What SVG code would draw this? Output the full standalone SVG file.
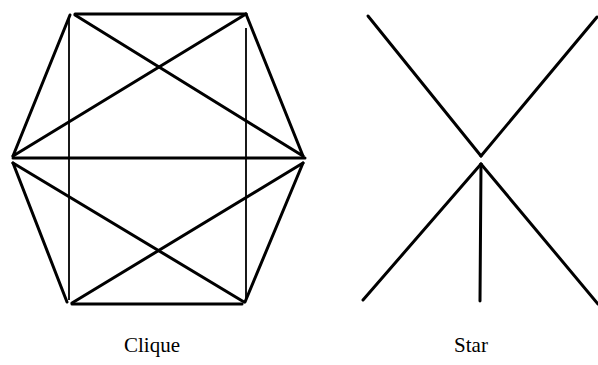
<svg xmlns="http://www.w3.org/2000/svg" width="598" height="365" viewBox="0 0 598 365">
<style>
.e{stroke:#000;stroke-width:3;stroke-linecap:round;fill:none}
.t{stroke:#000;stroke-width:1.8;fill:none}
.lbl{font-family:"Liberation Serif",serif;font-size:21px;fill:#000;text-anchor:middle}
</style>
<rect width="598" height="365" fill="#fff"/>
<g id="connectors">
<line class="e" x1="75" y1="14" x2="246" y2="14"/>
<line class="e" x1="70" y1="15" x2="13" y2="156"/>
<line class="e" x1="75" y1="15" x2="303" y2="156"/>
<line class="e" x1="246" y1="14" x2="13" y2="156"/>
<line class="e" x1="246" y1="14" x2="303" y2="156"/>
<line class="t" x1="69" y1="16" x2="69" y2="300"/>
<line class="t" x1="246" y1="28" x2="246" y2="300"/>
<line class="e" x1="13" y1="158" x2="305" y2="158"/>
<line class="e" x1="13" y1="163" x2="67" y2="302"/>
<line class="e" x1="13" y1="163" x2="244" y2="302"/>
<line class="e" x1="303" y1="163" x2="72" y2="303"/>
<line class="e" x1="303" y1="163" x2="245" y2="302"/>
<line class="e" x1="72" y1="304" x2="242" y2="304"/>
<line class="e" x1="368" y1="16" x2="481" y2="156"/>
<line class="e" x1="597" y1="17" x2="481" y2="156"/>
<line class="e" x1="481" y1="164" x2="363" y2="300"/>
<line class="e" x1="481" y1="164" x2="480" y2="301"/>
<line class="e" x1="481" y1="164" x2="598" y2="304"/>
</g>
<g id="clique-label"><text class="lbl" x="152" y="352">Clique</text></g>
<g id="star-label"><text class="lbl" x="471" y="352">Star</text></g>
</svg>
